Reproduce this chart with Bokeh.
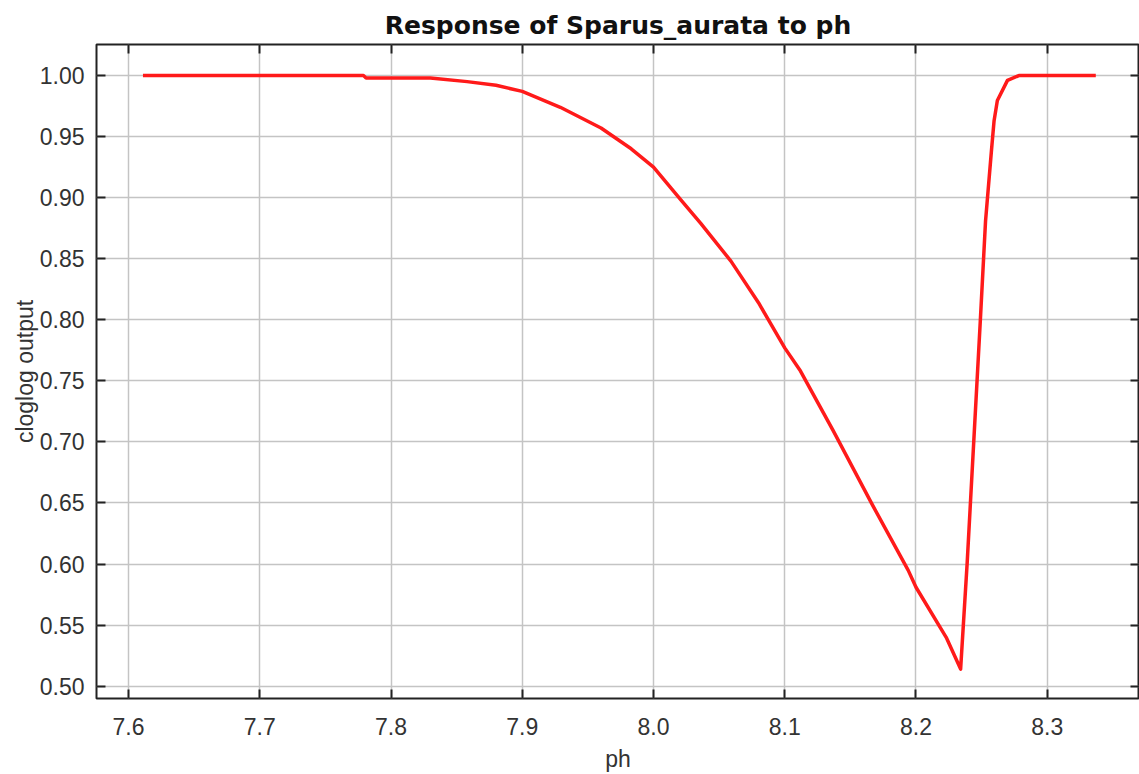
from bokeh.plotting import figure
from bokeh.models import LinearAxis, FixedTicker, NumeralTickFormatter, Range1d
from bokeh.embed import file_html
from bokeh.resources import INLINE

# data
ph = [7.611, 7.700, 7.779, 7.781, 7.830, 7.858, 7.880, 7.900, 7.929, 7.960, 7.983,
      8.000, 8.021, 8.036, 8.059, 8.080, 8.100, 8.112, 8.137, 8.167, 8.194, 8.200,
      8.223, 8.234, 8.239, 8.244, 8.249, 8.253, 8.2575, 8.2595, 8.262, 8.2697,
      8.2784, 8.337]
cloglog = [1.000, 1.000, 1.000, 0.998, 0.998, 0.995, 0.992, 0.987, 0.974, 0.957, 0.940,
           0.925, 0.898, 0.879, 0.848, 0.814, 0.777, 0.758, 0.709, 0.648, 0.595, 0.581,
           0.540, 0.514, 0.601, 0.700, 0.799, 0.881, 0.9386, 0.963, 0.9795, 0.996,
           1.000, 1.000]

x_ticks = [7.6, 7.7, 7.8, 7.9, 8.0, 8.1, 8.2, 8.3]
y_ticks = [0.50, 0.55, 0.60, 0.65, 0.70, 0.75, 0.80, 0.85, 0.90, 0.95, 1.00]

title_text = "Response of Sparus_aurata to ph"
x_label = "ph"
y_label = "cloglog output"

TICK_FONT = "Liberation Sans"
LABEL_FONT = "Liberation Sans"
DARK = "#222222"
TEXT = "#333333"

p = figure(width=1139, height=774, output_backend="svg", toolbar_location=None,
           x_range=Range1d(7.5756, 8.3703), y_range=Range1d(0.4899, 1.0254),
           x_axis_label=x_label, y_axis_label=y_label,
           min_border_left=96, min_border_top=44, min_border_bottom=76,
           min_border_right=0)

p.title.text = title_text
p.title.align = "center"
p.title.text_font = "DejaVu Sans"
p.title.text_font_style = "bold"
p.title.text_font_size = "25px"
p.title.text_color = "#111111"
p.title.standoff = 9

p.background_fill_color = "white"
p.border_fill_color = "white"
p.outline_line_color = DARK
p.outline_line_width = 2

for ax in (p.xaxis[0], p.yaxis[0]):
    ax.axis_line_color = None
    ax.major_tick_in = 9
    ax.major_tick_out = 0
    ax.major_tick_line_width = 2
    ax.major_tick_line_color = DARK
    ax.minor_tick_line_color = None
    ax.major_label_text_font = TICK_FONT
    ax.major_label_text_font_size = "23px"
    ax.major_label_text_color = TEXT
    ax.axis_label_text_font = LABEL_FONT
    ax.axis_label_text_font_size = "23px"
    ax.axis_label_text_font_style = "normal"
    ax.axis_label_text_color = TEXT

p.xaxis[0].ticker = FixedTicker(ticks=x_ticks)
p.xaxis[0].formatter = NumeralTickFormatter(format="0.0")
p.xaxis[0].major_label_standoff = 19
p.xaxis[0].axis_label_standoff = 8
p.yaxis[0].ticker = FixedTicker(ticks=y_ticks)
p.yaxis[0].formatter = NumeralTickFormatter(format="0.00")
p.yaxis[0].major_label_standoff = 12
p.yaxis[0].axis_label_standoff = -1

top_axis = LinearAxis(ticker=FixedTicker(ticks=x_ticks))
right_axis = LinearAxis(ticker=FixedTicker(ticks=y_ticks))
for ax in (top_axis, right_axis):
    ax.axis_line_color = None
    ax.major_tick_in = 9
    ax.major_tick_out = 0
    ax.major_tick_line_width = 2
    ax.major_tick_line_color = DARK
    ax.minor_tick_line_color = None
    ax.major_label_text_font_size = "1px"
    ax.major_label_text_alpha = 0
    ax.major_label_standoff = 0
p.add_layout(top_axis, "above")
p.add_layout(right_axis, "right")

p.xgrid.ticker = FixedTicker(ticks=x_ticks)
p.ygrid.ticker = FixedTicker(ticks=y_ticks)
p.grid.grid_line_color = "#c4c4c4"
p.grid.grid_line_width = 1.5

p.line(ph, cloglog, line_color="#ff1a1a", line_width=3.5, line_join="round")

open("out.html", "w").write(file_html(p, INLINE))
